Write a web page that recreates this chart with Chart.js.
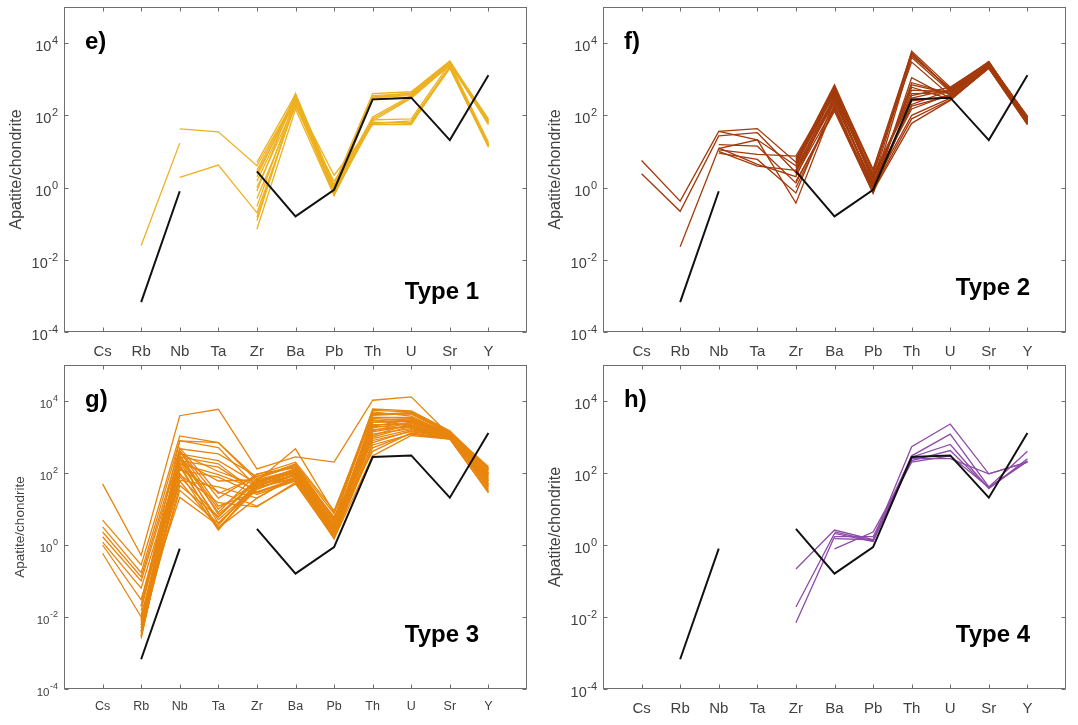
<!DOCTYPE html>
<html>
<head>
<meta charset="utf-8">
<script src="https://cdn.jsdelivr.net/npm/chart.js@4.4.0/dist/chart.umd.min.js"></script>
<style>
body { margin: 0; background: #fff; width: 1078px; height: 725px; overflow: hidden; position: relative; }
canvas { position: absolute; }
</style>
</head>
<body>
<canvas id="panelE" width="539" height="362" style="left:0;top:0"></canvas>
<canvas id="panelF" width="539" height="362" style="left:539px;top:0"></canvas>
<canvas id="panelG" width="539" height="363" style="left:0;top:362px"></canvas>
<canvas id="panelH" width="539" height="363" style="left:539px;top:362px"></canvas>
<script>
// element order on the x axis
var elements = ['Cs', 'Rb', 'Nb', 'Ta', 'Zr', 'Ba', 'Pb', 'Th', 'U', 'Sr', 'Y'];
var yTickExponents = [-4, -2, 0, 2, 4];

// black reference pattern (same in every panel)
var reference = [null, 6.7e-4, 0.79, null, 2.8, 0.16, 0.87, 277, 308, 20.6, 1290];

// Type 1 apatite samples (panel e)
var type1 = [
    [null, null, 42, 35, 4.0, 300, 1.0, 320, 350, 2600, 60],
    [null, 0.025, 17, null, 2.5, 250, 0.8, 70, 300, 2500, 15],
    [null, null, 1.9, 4.2, 0.2, 200, 0.7, 60, 70, 2200, 14],
    [null, null, null, null, 5.0, 380, 1.2, 400, 450, 3200, 70],
    [null, null, null, null, 3.0, 320, 0.9, 350, 400, 3000, 80],
    [null, null, null, null, 1.5, 280, 0.6, 300, 380, 2800, 55],
    [null, null, null, null, 1.0, 220, 0.8, 80, 320, 2400, 16],
    [null, null, null, null, 0.5, 180, 1.5, 65, 60, 2000, 13],
    [null, null, null, null, 0.12, 260, 2.2, 55, 55, 2300, 15],
    [null, null, null, null, 0.07, 150, 0.6, 75, 80, 2700, 18],
    [null, null, null, null, 0.3, 300, 1.0, 90, 350, 2900, 65],
    [null, null, null, null, 2.0, 350, 0.9, 270, 300, 2600, 75],
    [null, null, null, null, 0.8, 400, 1.1, 60, 65, 2100, 14],
    [null, null, null, null, 0.15, 240, 0.7, 320, 420, 3100, 60]
];

// Type 2 apatite samples (panel f)
var type2 = [
    [5.6, 0.42, 36, 43, 5.0, 400, 1.5, 5000, 500, 2600, 80],
    [2.4, 0.22, 27, 33, 2.6, 300, 1.0, 4000, 450, 2400, 70],
    [null, 0.023, 12, 21, 0.37, 200, 0.8, 800, 400, 2500, 60],
    [null, null, 36, 21, 4.0, 600, 2.0, 6000, 600, 3000, 90],
    [null, null, 15.5, 14, 1.35, 150, 0.7, 1100, 300, 2200, 65],
    [null, null, 11, 8.3, 7.4, 500, 3.0, 3000, 350, 2800, 85],
    [null, null, 9, 6, 0.71, 250, 1.2, 600, 280, 2000, 55],
    [null, null, 12.5, 4.4, 2.0, 350, 0.9, 200, 500, 2600, 75],
    [null, null, 10, 3.9, 3.0, 450, 1.8, 400, 420, 2700, 95],
    [null, null, null, null, 6.0, 700, 2.5, 4500, 550, 3000, 70],
    [null, null, null, null, 5.0, 550, 1.4, 150, 380, 2500, 60],
    [null, null, null, null, 3.5, 320, 1.1, 100, 300, 2300, 80],
    [null, null, null, null, 2.2, 180, 0.8, 60, 260, 2100, 58],
    [null, null, null, null, 4.5, 420, 2.2, 350, 600, 2900, 90],
    [null, null, null, null, 1.5, 130, 0.7, 250, 330, 2400, 65],
    [null, null, null, null, 6.5, 380, 1.6, 500, 450, 2700, 75],
    [null, null, null, null, 3.0, 260, 1.0, 700, 400, 2600, 85],
    [null, null, null, null, 5.5, 650, 3.2, 5500, 480, 2800, 72],
    [null, null, null, null, 2.8, 230, 1.3, 180, 350, 2200, 62],
    [null, null, null, null, 4.0, 480, 1.9, 300, 520, 3100, 78],
    [null, null, null, null, 1.0, 160, 0.9, 80, 270, 2000, 56]
];

// Type 3 apatite samples (panel g)
var type3 = [
    [50, 0.52, 3900, 5900, 130, 280, 200, 10500, 13000, 1100, 40],
    [4.9, 0.28, 1070, 700, 60, 470, 8, 5500, 5000, 1400, 140],
    [3.2, 0.17, 790, 510, 40, 120, 5, 4500, 4300, 1300, 120],
    [2.3, 0.13, 470, 340, 80, 150, 3, 3500, 3500, 1200, 100],
    [1.7, 0.1, 340, 220, 50, 90, 2.5, 2500, 3000, 1100, 80],
    [1.2, 0.063, 220, 145, 30, 70, 2, 1500, 2500, 1000, 60],
    [1.0, 0.03, 120, 77, 25, 60, 1.8, 1000, 2000, 950, 50],
    [0.59, 0.01, 63, 41, 20, 80, 1.5, 700, 1500, 900, 45],
    [null, 0.005, 300, 10, 60, 100, 4, 3000, 2000, 1000, 90],
    [null, 0.0025, 200, 5, 45, 110, 3, 2000, 1800, 950, 70],
    [null, 0.003, 150, 3, 35, 90, 2.2, 1200, 1700, 900, 55],
    [null, 0.004, 100, 2.6, 50, 130, 6, 800, 1400, 1050, 35],
    [null, 0.008, 80, 6, 70, 180, 7.4, 4000, 4500, 1250, 130],
    [null, 0.015, 400, 12, 30, 60, 2.8, 2800, 3200, 1150, 110],
    [null, 0.02, 260, 8, 95, 140, 4.5, 1800, 2600, 1100, 95],
    [null, 0.006, 33, 4, 40, 75, 2, 600, 1200, 880, 30],
    [null, 0.012, 21, 3.5, 55, 100, 3.5, 400, 1300, 920, 40],
    [null, 0.004, 500, 27, 80, 170, 5.5, 5000, 3800, 1200, 120],
    [null, 0.0035, 350, 110, 45, 85, 2.5, 3300, 2800, 1150, 85],
    [null, 0.007, 230, 60, 65, 120, 3.2, 2200, 2200, 1000, 75],
    [null, 0.01, 180, 90, 35, 95, 2.6, 1600, 1900, 980, 65],
    [null, 0.03, 280, 180, 28, 65, 1.8, 900, 1600, 950, 50],
    [null, 0.02, 130, 30, 12, 50, 1.6, 500, 1250, 900, 28],
    [null, 0.005, 420, 20, 90, 200, 9, 4200, 4800, 1350, 150],
    [null, 0.003, 90, 15, 11.5, 55, 1.5, 300, 1100, 870, 32],
    [null, 0.008, 60, 3, 20, 80, 2, 2000, 3000, 1050, 90],
    [null, 0.004, 45, 6, 60, 110, 2.8, 1100, 2400, 1000, 70],
    [null, 0.006, 250, 4, 45, 90, 3, 3500, 3300, 1150, 100],
    [null, 0.0028, 170, 2.8, 40, 70, 2.2, 2600, 2700, 1100, 60],
    [null, 0.009, 320, 7, 55, 130, 4, 1400, 2100, 1000, 45],
    [null, 0.02, 780, 700, 70, 160, 5, 6000, 5300, 1500, 130]
];

// Type 4 apatite samples (panel h)
var type4 = [
    [null, null, null, null, 0.215, 2.6, 1.4, 540, 2300, 95, 200],
    [null, null, null, null, 0.019, 2.1, 1.25, 300, 1200, 41, 400],
    [null, null, null, null, 0.0069, 1.7, 1.7, 275, 620, 37, 250],
    [null, null, null, null, null, 1.5, 1.4, 220, 420, 38, 220],
    [null, null, null, null, null, 0.78, 2.3, 200, 300, 40, 210],
    [null, null, null, null, null, 2.3, 1.3, 250, 250, 95, 200]
];

var FONT = 'Arial, "Liberation Sans", sans-serif';
Chart.defaults.font.family = FONT;
Chart.defaults.color = '#404040';

function toPoints(row) {
    return row.map(function (v, i) { return { x: i + 1, y: v }; });
}

// box with inward tick marks, power-of-ten labels, panel letter and type label
var frame = {
    id: 'frame',
    afterDraw: function (chart) {
        var ctx = chart.ctx, a = chart.chartArea, o = chart.options.plugins.frame;
        var xs = chart.scales.x, ys = chart.scales.y;
        var L = Math.round(a.left) + 0.5, R = Math.round(a.right) - 0.5;
        var T = Math.round(a.top) + 0.5, B = Math.round(a.bottom) - 0.5;
        ctx.save();
        ctx.strokeStyle = '#6e6e6e';
        ctx.lineWidth = 1;
        ctx.strokeRect(L, T, R - L, B - T);
        ctx.beginPath();
        xs.ticks.forEach(function (t) {
            var px = Math.round(xs.getPixelForValue(t.value)) + 0.5;
            ctx.moveTo(px, B); ctx.lineTo(px, B - 4);
            ctx.moveTo(px, T); ctx.lineTo(px, T + 4);
        });
        ys.ticks.forEach(function (t) {
            var py = Math.round(ys.getPixelForValue(t.value)) + 0.5;
            ctx.moveTo(L, py); ctx.lineTo(L + 4, py);
            ctx.moveTo(R, py); ctx.lineTo(R - 4, py);
        });
        ctx.stroke();

        // y tick labels as 10 with a raised exponent
        ctx.fillStyle = '#404040';
        ctx.textAlign = 'right';
        ctx.textBaseline = 'middle';
        ys.ticks.forEach(function (t) {
            var py = ys.getPixelForValue(t.value);
            var exp = String(Math.round(Math.log10(t.value)));
            var xr = a.left - 6;
            ctx.font = o.supFont + 'px ' + FONT;
            ctx.fillText(exp, xr, py - o.supLift);
            var w = ctx.measureText(exp).width;
            ctx.font = o.baseFont + 'px ' + FONT;
            ctx.fillText('10', xr - w - 0.5, py + o.baseDrop);
        });

        ctx.fillStyle = '#000';
        ctx.textAlign = 'left';
        ctx.font = 'bold 24px ' + FONT;
        ctx.fillText(o.letter, a.left + 21, a.top + 35);
        ctx.textAlign = 'right';
        ctx.fillText(o.label, a.right - o.labelRight, a.bottom - o.labelBottom);
        ctx.restore();
    }
};

function makeChart(id, samples, color, cfg) {
    var canvas = document.getElementById(id);
    var datasets = [{
        data: toPoints(reference),
        borderColor: '#111111',
        borderWidth: 2
    }];
    samples.forEach(function (row) {
        datasets.push({
            data: toPoints(row),
            borderColor: color,
            borderWidth: 1.3
        });
    });

    new Chart(canvas, {
        type: 'line',
        data: { datasets: datasets },
        plugins: [frame],
        options: {
            responsive: false,
            animation: false,
            spanGaps: false,
            elements: { point: { radius: 0 }, line: { tension: 0 } },
            layout: { padding: { top: cfg.top, right: 12, bottom: 0, left: 0 } },
            plugins: {
                legend: { display: false },
                tooltip: { enabled: false },
                frame: cfg
            },
            scales: {
                x: {
                    type: 'linear',
                    min: 0,
                    max: 12,
                    grid: { display: false },
                    border: { display: false },
                    afterBuildTicks: function (scale) {
                        scale.ticks = elements.map(function (e, i) { return { value: i + 1 }; });
                    },
                    afterFit: function (scale) {
                        scale.height = cfg.xHeight;
                        scale.paddingLeft = 0;
                        scale.paddingRight = 0;
                    },
                    ticks: {
                        autoSkip: false,
                        maxRotation: 0,
                        padding: cfg.xPad,
                        font: { size: cfg.xFont },
                        callback: function (v) { return elements[v - 1]; }
                    }
                },
                y: {
                    type: 'logarithmic',
                    min: 1e-4,
                    max: 1e5,
                    grid: { display: false },
                    border: { display: false },
                    afterBuildTicks: function (scale) {
                        scale.ticks = yTickExponents.map(function (e) { return { value: Math.pow(10, e) }; });
                    },
                    afterFit: function (scale) {
                        scale.width = 64;
                        scale.paddingTop = 0;
                        scale.paddingBottom = 0;
                    },
                    ticks: { display: false },
                    title: {
                        display: true,
                        text: 'Apatite/chondrite',
                        font: { size: cfg.titleFont },
                        padding: { top: cfg.titlePad, bottom: 0 }
                    }
                }
            }
        }
    });
}

makeChart('panelE', type1, '#EDB120', {
    letter: 'e)', label: 'Type 1', labelRight: 48, labelBottom: 40,
    top: 7, xHeight: 30, xPad: 3, xFont: 15, titleFont: 16, titlePad: 7,
    baseFont: 14.5, supFont: 11, supLift: 2, baseDrop: 4
});
makeChart('panelF', type2, '#A33A0C', {
    letter: 'f)', label: 'Type 2', labelRight: 36, labelBottom: 44,
    top: 7, xHeight: 30, xPad: 3, xFont: 15, titleFont: 16, titlePad: 7,
    baseFont: 14.5, supFont: 11, supLift: 2, baseDrop: 4
});
makeChart('panelG', type3, '#E8850C', {
    letter: 'g)', label: 'Type 3', labelRight: 48, labelBottom: 54,
    top: 3, xHeight: 36, xPad: 2, xFont: 12.5, titleFont: 13.5, titlePad: 12,
    baseFont: 11.5, supFont: 9, supLift: 2, baseDrop: 3.5
});
makeChart('panelH', type4, '#8E4BA8', {
    letter: 'h)', label: 'Type 4', labelRight: 36, labelBottom: 54,
    top: 3, xHeight: 36, xPad: 3, xFont: 15, titleFont: 16, titlePad: 7,
    baseFont: 14.5, supFont: 11, supLift: 2, baseDrop: 4
});
</script>
</body>
</html>
